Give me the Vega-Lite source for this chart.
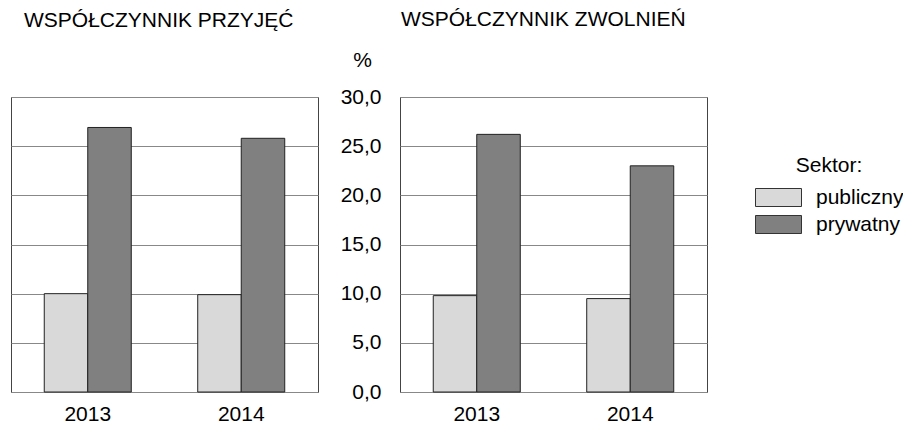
{
  "$schema": "https://vega.github.io/schema/vega-lite/v6.json",
  "autosize": {"type": "pad"},
  "padding": {"left": 10, "top": 8, "right": 0, "bottom": 0},
  "background": "white",
  "data": {"values": [
    {"panel": "P", "year": "2013", "sektor": "publiczny", "value": 10.0},
    {"panel": "P", "year": "2013", "sektor": "prywatny", "value": 26.9},
    {"panel": "P", "year": "2014", "sektor": "publiczny", "value": 9.9},
    {"panel": "P", "year": "2014", "sektor": "prywatny", "value": 25.8},
    {"panel": "Z", "year": "2013", "sektor": "publiczny", "value": 9.8},
    {"panel": "Z", "year": "2013", "sektor": "prywatny", "value": 26.2},
    {"panel": "Z", "year": "2014", "sektor": "publiczny", "value": 9.5},
    {"panel": "Z", "year": "2014", "sektor": "prywatny", "value": 23.0}
  ]},
  "spacing": 82,
  "bounds": "flush",
  "config": {
    "font": "Liberation Sans",
    "view": {"stroke": "#444", "strokeWidth": 1},
    "axis": {"labelFont": "Liberation Sans", "labelFontSize": 21, "labelColor": "#000", "ticks": false, "tickSize": 0, "domain": false, "gridColor": "#888", "gridWidth": 1, "gridOpacity": 1},
    "title": {"font": "Liberation Sans", "fontSize": 21, "fontWeight": "normal", "color": "#000"},
    "legend": {"title": "Sektor:", "orient": "none", "legendX": 744, "legendY": 58, "titleFontSize": 21, "titleFontWeight": "normal", "titleFont": "Liberation Sans", "titleColor": "#000", "titleAnchor": "middle", "titlePadding": -2, "labelFontSize": 21, "labelFont": "Liberation Sans", "labelColor": "#000", "labelOffset": 14, "rowPadding": -8, "gridAlign": "none", "symbolType": "M-1,-0.3913H1V0.3913H-1Z", "symbolSize": 2116, "symbolStrokeColor": "#333", "symbolStrokeWidth": 1, "symbolOpacity": 1}
  },
  "hconcat": [
    {
      "title": {"text": "WSPÓŁCZYNNIK PRZYJĘĆ", "anchor": "start", "frame": "group", "dx": 13, "offset": 49, "baseline": "alphabetic"},
      "transform": [{"filter": "datum.panel === 'P'"}],
      "width": 307,
      "height": 295,
      "mark": {"type": "bar", "stroke": "#222", "strokeWidth": 1},
      "encoding": {
        "x": {"field": "year", "type": "nominal", "scale": {"paddingInner": 0.433, "paddingOuter": 0.2167}, "axis": {"title": null, "labelAngle": 0, "labelPadding": 11}},
        "xOffset": {"field": "sektor", "type": "nominal", "sort": ["publiczny", "prywatny"], "scale": {"paddingInner": 0, "paddingOuter": 0}},
        "y": {"field": "value", "type": "quantitative", "scale": {"domain": [0, 30], "nice": false}, "axis": {"title": null, "labels": false, "grid": true, "values": [0, 5, 10, 15, 20, 25, 30]}},
        "color": {"field": "sektor", "type": "nominal", "sort": ["publiczny", "prywatny"], "scale": {"domain": ["publiczny", "prywatny"], "range": ["#d9d9d9", "#808080"]},
          "legend": {"title": "Sektor:", "orient": "none", "legendX": 744, "legendY": 58, "encode": {"symbols": {"update": {"fill": {"signal": "datum.value === 'prywatny' ? '#575757' : '#d9d9d9'"}, "stroke": {"value": "#333"}, "opacity": {"value": 1}}}}}}
      }
    },
    {
      "title": {"text": "WSPÓŁCZYNNIK ZWOLNIEŃ", "anchor": "start", "frame": "group", "dx": 1, "offset": 2, "baseline": "alphabetic"},
      "transform": [{"filter": "datum.panel === 'Z'"}],
      "width": 307,
      "height": 295,
      "mark": {"type": "bar", "stroke": "#222", "strokeWidth": 1},
      "encoding": {
        "x": {"field": "year", "type": "nominal", "scale": {"paddingInner": 0.433, "paddingOuter": 0.2167}, "axis": {"title": null, "labelAngle": 0, "labelPadding": 11}},
        "xOffset": {"field": "sektor", "type": "nominal", "sort": ["publiczny", "prywatny"], "scale": {"paddingInner": 0, "paddingOuter": 0}},
        "y": {"field": "value", "type": "quantitative", "scale": {"domain": [0, 30], "nice": false}, "axis": {"title": "%", "titleAngle": 0, "titleX": -38, "titleY": -37, "titleAlign": "center", "titleBaseline": "middle", "titleFontSize": 21, "titleFontWeight": "normal", "titleFont": "Liberation Sans", "titleColor": "#000", "labelPadding": 19, "grid": true, "values": [0, 5, 10, 15, 20, 25, 30], "labelExpr": "replace(format(datum.value, '.1f'), '.', ',')"}},
        "color": {"field": "sektor", "type": "nominal", "sort": ["publiczny", "prywatny"], "scale": {"domain": ["publiczny", "prywatny"], "range": ["#d9d9d9", "#808080"]},
          "legend": {"title": "Sektor:", "orient": "none", "legendX": 744, "legendY": 58, "encode": {"symbols": {"update": {"fill": {"signal": "datum.value === 'prywatny' ? '#575757' : '#d9d9d9'"}, "stroke": {"value": "#333"}, "opacity": {"value": 1}}}}}}
      }
    }
  ]
}
